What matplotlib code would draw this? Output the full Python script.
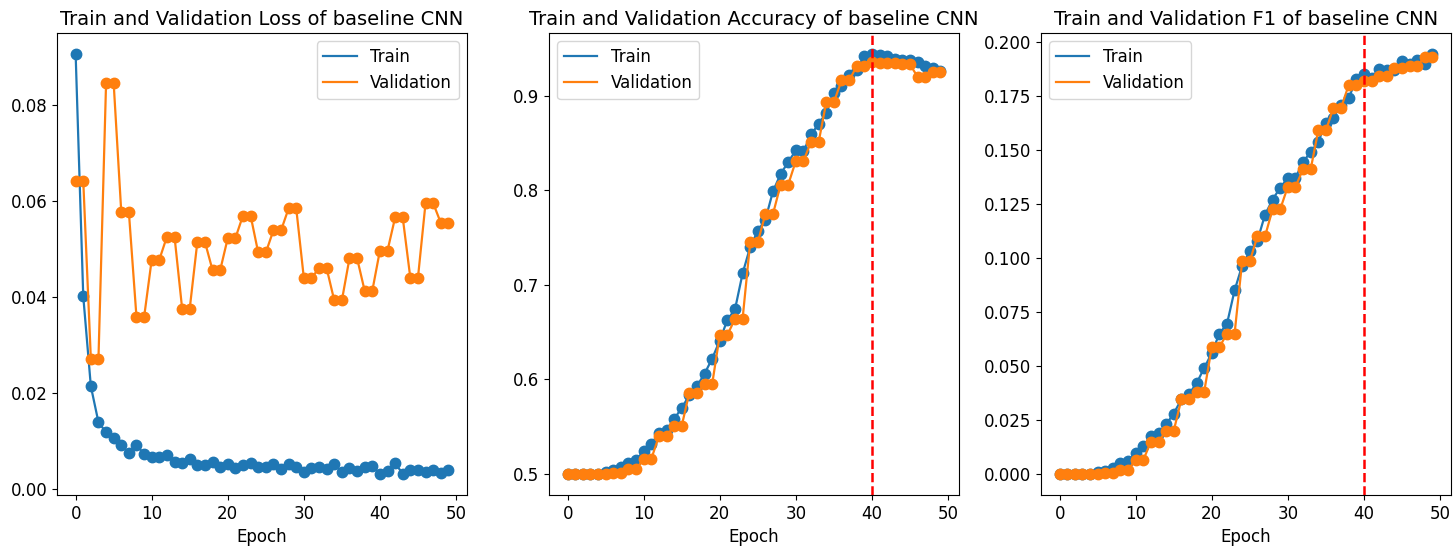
import matplotlib
matplotlib.use("Agg")
import matplotlib.pyplot as plt
import numpy as np

epochs = list(range(50))

train_loss = [0.0907, 0.0402, 0.0214, 0.0139, 0.0118, 0.0106, 0.0091, 0.0075, 0.0091, 0.0073,
              0.0066, 0.0066, 0.0071, 0.0055, 0.0054, 0.0062, 0.0049, 0.0050, 0.0056, 0.0045,
              0.0052, 0.0043, 0.0050, 0.0054, 0.0045, 0.0045, 0.0051, 0.0041, 0.0051, 0.0046,
              0.0036, 0.0043, 0.0046, 0.0042, 0.0051, 0.0035, 0.0043, 0.0037, 0.0046, 0.0048,
              0.0031, 0.0038, 0.0053, 0.0032, 0.0040, 0.0039, 0.0036, 0.0040, 0.0034, 0.0040]
val_loss = [0.0643, 0.0643, 0.0271, 0.0271, 0.0846, 0.0846, 0.0577, 0.0577, 0.0358, 0.0358,
            0.0478, 0.0478, 0.0526, 0.0526, 0.0376, 0.0376, 0.0515, 0.0515, 0.0456, 0.0456,
            0.0523, 0.0523, 0.0570, 0.0570, 0.0493, 0.0493, 0.0539, 0.0539, 0.0585, 0.0585,
            0.0440, 0.0440, 0.0460, 0.0460, 0.0393, 0.0393, 0.0481, 0.0481, 0.0413, 0.0413,
            0.0497, 0.0497, 0.0566, 0.0566, 0.0440, 0.0440, 0.0596, 0.0596, 0.0555, 0.0555]

train_acc = [0.500, 0.500, 0.500, 0.500, 0.500, 0.502, 0.504, 0.507, 0.512, 0.515,
             0.524, 0.532, 0.543, 0.546, 0.558, 0.570, 0.583, 0.593, 0.606, 0.622,
             0.641, 0.663, 0.674, 0.712, 0.740, 0.757, 0.769, 0.799, 0.817, 0.830,
             0.842, 0.841, 0.859, 0.870, 0.882, 0.903, 0.910, 0.922, 0.927, 0.942,
             0.944, 0.943, 0.942, 0.939, 0.938, 0.938, 0.936, 0.931, 0.929, 0.926]
val_acc = [0.500, 0.500, 0.500, 0.500, 0.500, 0.500, 0.501, 0.501, 0.505, 0.505,
           0.516, 0.516, 0.540, 0.540, 0.551, 0.551, 0.586, 0.586, 0.595, 0.595,
           0.647, 0.647, 0.664, 0.664, 0.745, 0.745, 0.775, 0.775, 0.806, 0.806,
           0.831, 0.831, 0.851, 0.851, 0.893, 0.893, 0.916, 0.916, 0.931, 0.931,
           0.936, 0.935, 0.934, 0.934, 0.933, 0.933, 0.920, 0.920, 0.925, 0.925]

train_f1 = [0.000, 0.000, 0.000, 0.000, 0.000, 0.001, 0.0015, 0.003, 0.005, 0.006,
            0.0095, 0.013, 0.0175, 0.019, 0.023, 0.028, 0.0345, 0.037, 0.042, 0.049,
            0.056, 0.065, 0.0695, 0.085, 0.0965, 0.103, 0.108, 0.120, 0.127, 0.1326,
            0.137, 0.137, 0.1445, 0.149, 0.1537, 0.1626, 0.165, 0.171, 0.174, 0.1826,
            0.185, 0.1834, 0.1875, 0.187, 0.187, 0.191, 0.190, 0.1918, 0.190, 0.1944]
val_f1 = [0.000, 0.000, 0.000, 0.000, 0.000, 0.000, 0.0005, 0.0005, 0.002, 0.002,
          0.0065, 0.0065, 0.015, 0.015, 0.020, 0.020, 0.0345, 0.0345, 0.038, 0.038,
          0.0587, 0.0587, 0.065, 0.065, 0.0985, 0.0985, 0.110, 0.110, 0.1226, 0.1226,
          0.133, 0.133, 0.141, 0.141, 0.159, 0.159, 0.1695, 0.1695, 0.180, 0.180,
          0.182, 0.182, 0.184, 0.184, 0.188, 0.188, 0.189, 0.189, 0.193, 0.193]

best_epoch = 40
titles = ["Train and Validation Loss of baseline CNN",
          "Train and Validation Accuracy of baseline CNN",
          "Train and Validation F1 of baseline CNN"]

fig = plt.figure(figsize=(14.53, 5.5), dpi=100)
W, H = 1453, 550
lefts = [57, 549, 1041]
axes = [fig.add_axes([l / W, (550 - 495) / H, 410 / W, (495 - 33) / H]) for l in lefts]

series = [(train_loss, val_loss), (train_acc, val_acc), (train_f1, val_f1)]
for i, (ax, (tr, va)) in enumerate(zip(axes, series)):
    ax.plot(epochs, tr, "-", color="#1f77b4", linewidth=1.6, label="Train")
    ax.plot(epochs, tr, "o", color="#1f77b4", markersize=7.5)
    ax.plot(epochs, va, "-", color="#ff7f0e", linewidth=1.6, label="Validation")
    ax.plot(epochs, va, "o", color="#ff7f0e", markersize=7.5)
    if i > 0:
        ax.axvline(best_epoch, color="red", linestyle="--", linewidth=1.8)
        ax.legend(loc="upper left", fontsize=12)
    else:
        ax.legend(loc="upper right", fontsize=12)
    ax.set_title(titles[i], fontsize=14)
    ax.set_xlabel("Epoch", fontsize=12)
    ax.tick_params(labelsize=12)
    ax.set_xticks([0, 10, 20, 30, 40, 50])

axes[2].set_yticks(np.arange(0, 0.201, 0.025))
axes[2].yaxis.set_major_formatter(matplotlib.ticker.FormatStrFormatter("%.3f"))

fig.savefig("out.png", dpi=100)
